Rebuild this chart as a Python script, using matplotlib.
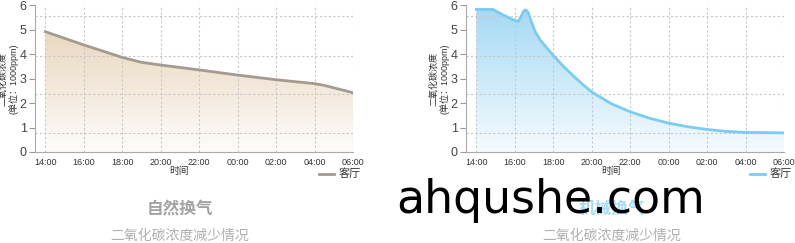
import numpy as np
import matplotlib
matplotlib.use("Agg")
import matplotlib.pyplot as plt
from matplotlib.colors import LinearSegmentedColormap

plt.rcParams['font.family'] = ['Liberation Sans', 'Noto Sans CJK SC', 'DejaVu Sans']

# hours after 14:00
nat_h = [0, 2, 4, 5, 6, 8, 10, 12, 14, 14.5, 16]
nat_v = [4.91, 4.37, 3.86, 3.66, 3.55, 3.35, 3.14, 2.95, 2.79, 2.72, 2.42]

mech_h = [0, 0.85, 1.41, 1.93, 2.19, 2.36, 2.45, 2.54, 2.63, 2.71, 2.89, 3.06, 3.32,
          4.0, 4.5, 5.0, 5.5, 6.0, 7.0, 8.0, 9.0, 10.0, 11.0, 12.0, 13.0, 14.0, 16.0]
mech_v = [5.82, 5.82, 5.59, 5.39, 5.33, 5.59, 5.74, 5.80, 5.76, 5.66, 5.25, 4.91, 4.57,
          3.94, 3.52, 3.14, 2.78, 2.45, 1.98, 1.64, 1.38, 1.18, 1.03, 0.92, 0.84, 0.80, 0.78]

tick_labels = ["14:00", "16:00", "18:00", "20:00", "22:00", "00:00", "02:00", "04:00", "06:00"]
hgrid = [0.77, 2.37, 3.92, 5.55]

panels = [
    dict(h=nat_h, v=nat_v, left=35, line="#a39a90", top="#e9d8c0", bot="#fefcfa",
         title="自然换气", tcol="#a3a3a3", cx=180),
    dict(h=mech_h, v=mech_v, left=466, line="#7ccbf0", top="#a6d9f4", bot="#f5fbfe",
         title="机械换气", tcol="#a9d9f2", cx=612),
]

W, H = 795, 243
fig = plt.figure(figsize=(W / 100, H / 100), dpi=100)

for p in panels:
    x0 = p["left"]
    x_end = x0 + 318
    ax = fig.add_axes([x0 / W, (H - 152) / H, (x_end - x0) / W, 147 / H])
    ax.set_xlim(-0.54, 16)
    ax.set_ylim(0, 6)

    # gradient fill under the curve
    cmap = LinearSegmentedColormap.from_list("g", [p["bot"], p["top"]])
    grad = np.linspace(0, 1, 256).reshape(-1, 1)
    ymax = max(p["v"])
    im = ax.imshow(grad, aspect="auto", cmap=cmap, origin="lower",
                   extent=[0, 16, 0, ymax], zorder=1)
    poly = ax.fill_between(p["h"], p["v"], 0, color="none", lw=0)
    im.set_clip_path(poly.get_paths()[0], transform=ax.transData)
    ax.plot(p["h"], p["v"], color=p["line"], lw=2, zorder=3, solid_joinstyle="round")

    for gx in range(0, 17, 2):
        ax.axvline(gx, color="#c8c8c8", lw=0.8, ls=(0, (2, 2)), zorder=2)
    for gy in hgrid:
        ax.axhline(gy, color="#c8c8c8", lw=0.8, ls=(0, (2, 2)), zorder=2)

    ax.set_xticks(range(0, 17, 2))
    ax.set_xticklabels(tick_labels, fontsize=6.5, color="#333333")
    ax.tick_params(axis="x", length=0, pad=4)
    ax.set_yticks(range(0, 7))
    ax.tick_params(axis="y", length=4, width=0.8, color="#999999", labelsize=9,
                   labelcolor="#444444", pad=2)
    for s in ["top", "right"]:
        ax.spines[s].set_visible(False)
    for s in ["left", "bottom"]:
        ax.spines[s].set_color("#aaaaaa")
        ax.spines[s].set_linewidth(0.8)
    ax.set_ylabel("二氧化碳浓度\n(单位：1000ppm)", fontsize=6.5, color="#333333",
                  linespacing=1.1)
    ax.yaxis.set_label_coords(-0.052, 0.5)

    cx = p["cx"]
    fig.text((cx - 1) / W, 1 - 171 / H, "时间", ha="center", va="center", fontsize=7,
             color="#333333")
    lx = x0 + 284
    fig.add_artist(plt.Line2D([lx / W, (lx + 15) / W], [1 - 174 / H] * 2,
                              color=p["line"], lw=2))
    fig.text((lx + 20) / W, 1 - 174 / H, "客厅", ha="left", va="center", fontsize=8,
             color="#333333")
    fig.text(cx / W, 1 - 209 / H, p["title"], ha="center", va="center", fontsize=12,
             color=p["tcol"], fontweight="bold")
    fig.text(cx / W, 1 - 236 / H, "二氧化碳浓度减少情况", ha="center", va="center",
             fontsize=10, color="#b0b0b0")

fig.text(551 / W, 1 - 213 / H, "ahqushe.com", ha="center", va="baseline",
         fontsize=33, color="black", family="DejaVu Sans")

fig.savefig("out.png", dpi=100)
